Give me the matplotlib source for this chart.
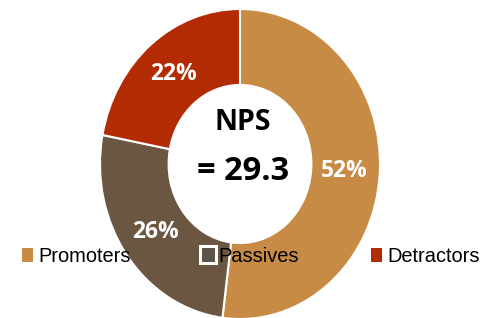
import matplotlib
matplotlib.use('Agg')
import matplotlib.pyplot as plt
from matplotlib.patches import Patch, Rectangle
from matplotlib.legend_handler import HandlerPatch

# data
labels = ['Promoters', 'Passives', 'Detractors']
shares = [52, 26, 22]
colors = ['#C78B45', '#6B5641', '#B22B03']

fig = plt.figure(figsize=(5, 3.18), dpi=100)
ax = fig.add_axes([0, 0, 1, 1])

# donut: clockwise from the top
wedges, texts, pcts = ax.pie(shares, colors=colors, startangle=90, counterclock=False,
                             autopct='%d%%', pctdistance=0.75,
                             wedgeprops=dict(width=0.49, edgecolor='white', linewidth=1.5))
for t in pcts:
    t.set_color('white')
    t.set_fontsize(16.5)
    t.set_fontweight('bold')
    t.set_family('Open Sans')

# the picture is slightly stretched vertically
ax.set_aspect('auto')
ax.set_xlim(-240 / 140, 260 / 140)
ax.set_ylim(-154 / 155, 164 / 155)
ax.axis('off')

# centre text
ax.text(0.02, 0.27, 'NPS', ha='center', va='center', fontsize=20.5,
        fontweight='bold', family='Open Sans', color='black')
ax.text(0.02, -0.05, '= 29.3', ha='center', va='center', fontsize=23.5,
        fontweight='bold', family='Open Sans', color='black')


# the Passives key is a bigger square with a white rim
def big_square(legend, orig_handle, xdescent, ydescent, width, height, fontsize):
    s = height * 1.2
    return Rectangle((width / 2 - s / 2 - xdescent, height / 2 - s / 2 - ydescent), s, s)


handles = [Patch(facecolor=colors[0], edgecolor='none'),
           Patch(facecolor='#5E5347', edgecolor='white', linewidth=2.2),
           Patch(facecolor=colors[2], edgecolor='none')]
leg = fig.legend(handles, labels, ncol=3, loc='center left',
                 bbox_to_anchor=(22 / 500, 1 - 256 / 318), frameon=False,
                 prop={'family': 'Liberation Sans', 'size': 14.4},
                 handlelength=0.55, handleheight=0.7, handletextpad=0.25,
                 columnspacing=3.6, borderpad=0, borderaxespad=0,
                 handler_map={handles[1]: HandlerPatch(patch_func=big_square)})
for t in leg.get_texts():
    t.set_color('black')

fig.savefig('out.png', dpi=100)
